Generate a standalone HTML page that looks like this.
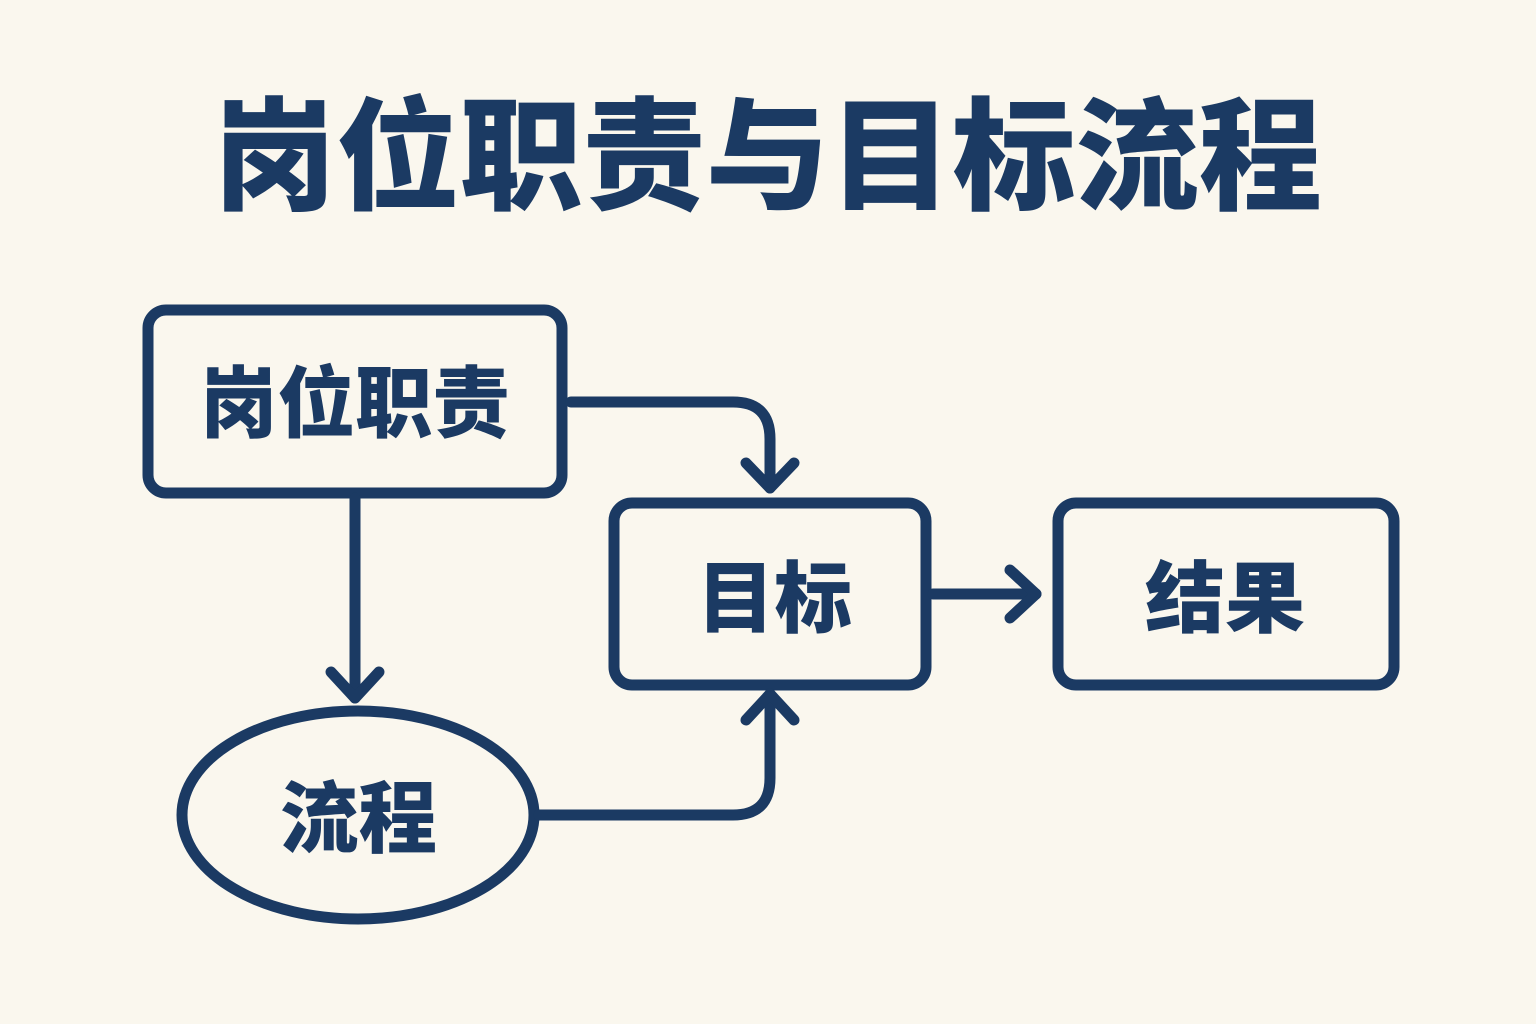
<!DOCTYPE html>
<html><head><meta charset="utf-8"><style>
html,body{margin:0;padding:0;background:#faf7ee;}
svg{display:block}
text{font-family:"Liberation Sans","Noto Sans CJK SC",sans-serif;font-weight:900;fill:#1b3a63}
</style></head><body>
<svg width="1536" height="1024" viewBox="0 0 1536 1024">
<rect width="1536" height="1024" fill="#faf7ee"/>
<text x="213" y="200" font-size="122" textLength="1109" lengthAdjust="spacingAndGlyphs">岗位职责与目标流程</text>
<g fill="none" stroke="#1b3a63" stroke-width="11" stroke-linecap="round" stroke-linejoin="round">
<rect x="148" y="310" width="414" height="183" rx="18"/>
<rect x="614" y="503" width="312" height="182" rx="18"/>
<rect x="1058" y="503" width="336" height="182" rx="18"/>
<ellipse cx="358" cy="815" rx="176" ry="104"/>
<path d="M571 402 H733 Q770 402 770 439 V488"/>
<path d="M746 463 L770 488 L794 463"/>
<path d="M355 498 V698"/>
<path d="M331 672 L355 698 L379 672"/>
<path d="M539 815 H733 Q770 815 770 778 V694"/>
<path d="M746 720 L770 694 L794 720"/>
<path d="M933 594 H1036"/>
<path d="M1010 570 L1036 594 L1010 618"/>
</g>
<text x="200" y="431" font-size="78" textLength="310" lengthAdjust="spacingAndGlyphs">岗位职责</text>
<text x="697" y="626" font-size="78" textLength="155" lengthAdjust="spacingAndGlyphs">目标</text>
<text x="1145" y="626" font-size="78" textLength="160" lengthAdjust="spacingAndGlyphs">结果</text>
<text x="280" y="846" font-size="78" textLength="157" lengthAdjust="spacingAndGlyphs">流程</text>
</svg>
</body></html>
